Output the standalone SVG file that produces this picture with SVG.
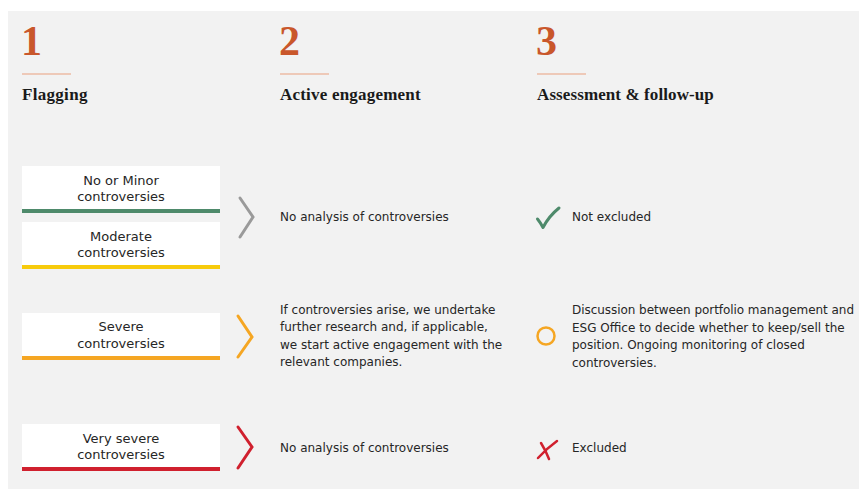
<svg xmlns="http://www.w3.org/2000/svg" width="859" height="489" viewBox="0 0 859 489">
<style>
.num{font-family:"Liberation Serif",serif;font-size:42px;font-weight:bold;fill:#C9572B}
.head{font-family:"Liberation Serif",serif;font-size:17px;font-weight:bold;fill:#1a1a1a}
.rule{stroke:#E9A07E;stroke-width:1.2}
.box{fill:#ffffff}
.bt{font-family:"DejaVu Sans",sans-serif;font-size:13px;fill:#262626;text-anchor:middle}
.t{font-family:"DejaVu Sans",sans-serif;font-size:12px;fill:#262626}
.chev{fill:none;stroke-width:3;stroke-linecap:round;stroke-linejoin:miter}
</style>
<rect x="0" y="0" width="859" height="489" fill="#ffffff"/>
<rect x="8" y="11" width="851" height="478" fill="#F2F2F2"/>
<g id="col1-header">
<text class="num" x="21" y="55">1</text>
<line class="rule" x1="22" y1="74" x2="71" y2="74"/>
<text class="head" x="22" y="100" letter-spacing="0.3">Flagging</text>
</g>
<g id="col2-header">
<text class="num" x="279" y="55">2</text>
<line class="rule" x1="280" y1="74" x2="329" y2="74"/>
<text class="head" x="280" y="100" letter-spacing="0.2">Active engagement</text>
</g>
<g id="col3-header">
<text class="num" x="536" y="55">3</text>
<line class="rule" x1="537" y1="74" x2="586" y2="74"/>
<text class="head" x="537" y="100" letter-spacing="0.1">Assessment &amp; follow-up</text>
</g>
<g id="box-minor">
<rect class="box" x="22" y="166" width="198" height="44"/>
<rect x="22" y="209" width="198" height="4" fill="#4E8A6B"/>
<text class="bt" x="121" y="185">No or Minor</text>
<text class="bt" x="121" y="201">controversies</text>
</g>
<g id="box-moderate">
<rect class="box" x="22" y="222" width="198" height="44"/>
<rect x="22" y="265" width="198" height="4" fill="#F7CB0C"/>
<text class="bt" x="121" y="241">Moderate</text>
<text class="bt" x="121" y="257">controversies</text>
</g>
<g id="box-severe">
<rect class="box" x="22" y="313" width="198" height="44"/>
<rect x="22" y="356" width="198" height="4" fill="#F5A623"/>
<text class="bt" x="121" y="331">Severe</text>
<text class="bt" x="121" y="348">controversies</text>
</g>
<g id="box-very-severe">
<rect class="box" x="22" y="424" width="198" height="44"/>
<rect x="22" y="467" width="198" height="4" fill="#D0202E"/>
<text class="bt" x="121" y="443">Very severe</text>
<text class="bt" x="121" y="459">controversies</text>
</g>
<g id="connectors">
<polyline class="chev" points="240,198 253,217 240,237" stroke="#9A9A9A"/>
<polyline class="chev" points="238,316 252,337 238,357" stroke="#F5A623"/>
<polyline class="chev" points="238,427 252,447 238,468" stroke="#D0202E"/>
</g>
<g id="engage-1">
<text class="t" x="280" y="221">No analysis of controversies</text>
</g>
<g id="engage-2">
<text class="t" x="280" y="314">If controversies arise, we undertake</text>
<text class="t" x="280" y="331">further research and, if applicable,</text>
<text class="t" x="280" y="349">we start active engagement with the</text>
<text class="t" x="280" y="366">relevant companies.</text>
</g>
<g id="engage-3">
<text class="t" x="280" y="452">No analysis of controversies</text>
</g>
<g id="result-1">
<path d="M537.5,219 Q540,222 543,227.5 Q549,216 559,208" fill="none" stroke="#4E8A6B" stroke-width="3" stroke-linecap="round" stroke-linejoin="round"/>
<text class="t" x="572" y="221">Not excluded</text>
</g>
<g id="result-2">
<circle cx="546" cy="336" r="8.5" fill="none" stroke="#F5A623" stroke-width="2.5"/>
<text class="t" x="572" y="314" letter-spacing="-0.05">Discussion between portfolio management and</text>
<text class="t" x="572" y="332">ESG Office to decide whether to keep/sell the</text>
<text class="t" x="572" y="349">position. Ongoing monitoring of closed</text>
<text class="t" x="572" y="367">controversies.</text>
</g>
<g id="result-3">
<path d="M541,443 Q546,451 549,459 M557,441 Q546,449 538,458" fill="none" stroke="#D0202E" stroke-width="2.5" stroke-linecap="round"/>
<text class="t" x="572" y="452">Excluded</text>
</g>
</svg>
